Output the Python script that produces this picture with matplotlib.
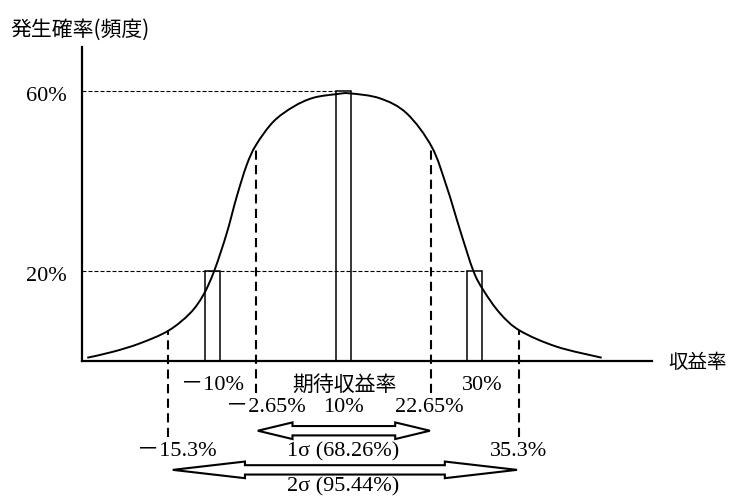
import numpy as np
import matplotlib
matplotlib.use("Agg")
import matplotlib.pyplot as plt
import matplotlib.transforms as mtransforms
from matplotlib.path import Path
from matplotlib.patches import PathPatch, Polygon

# --- data -------------------------------------------------------------
returns = [-10, 10, 30]            # 収益率 (%)
freq = [20, 60, 20]                # 発生確率 (%)
expected = 10                      # 期待収益率 (%)
one_sigma = [-2.65, 22.65]         # 1σ range (%)
two_sigma = [-15.3, 35.3]          # 2σ range (%)
y_ticks = [20, 60]
y_tick_labels = ["20%", "60%"]

# distribution curve read as points (return %, probability %)
curve_x = [-26.92, -23.17, -19.32, -15.24, -12.12, -10.2, -8.62, -6.83, -5.39,
           -3.95, -2.61, -0.12, 2.77, 5.65, 9.02, 10.94, 15.26, 19.11, 22.71,
           24.87, 26.79, 28.70, 30.14, 32.55, 35.43, 40.72, 47.2]
curve_y = [0.73, 2.07, 3.93, 6.73, 10.6, 14.67, 20.07, 28.38, 36.51, 43.56,
           48.0, 53.18, 56.51, 58.51, 59.33, 59.49, 58.38, 55.04, 47.62, 38.73,
           29.11, 20.07, 15.78, 10.6, 6.73, 3.18, 0.73]

SERIF = ["Liberation Serif", "Noto Sans CJK JP"]
GOTHIC = ["Noto Sans CJK JP", "DejaVu Sans"]

W, H = 731, 497
fig = plt.figure(figsize=(W / 100, H / 100), dpi=100)
ax = fig.add_axes([82 / W, 136 / H, 570 / W, 314 / H])
ax.set_xlim(-27.68, 54.45)
ax.set_ylim(0, 69.8)
for s in ("top", "right"):
    ax.spines[s].set_visible(False)
for s in ("left", "bottom"):
    ax.spines[s].set_linewidth(1.6)
ax.set_xticks([])
ax.set_yticks(y_ticks)
ax.set_yticklabels(y_tick_labels, fontsize=16, family=SERIF)
ax.tick_params(axis="y", length=0, pad=11)
shift = mtransforms.ScaledTranslation(0, -3 / 100, fig.dpi_scale_trans)
for t in ax.get_yticklabels():
    t.set_transform(t.get_transform() + shift)

# --- smooth curve through the points (Catmull-Rom as cubic Bezier) ----
pts = np.column_stack([curve_x, curve_y])
verts = [pts[0]]
codes = [Path.MOVETO]
n = len(pts)
for i in range(n - 1):
    p0 = pts[i - 1] if i > 0 else pts[i]
    p1, p2 = pts[i], pts[i + 1]
    p3 = pts[i + 2] if i + 2 < n else pts[i + 1]
    c1 = p1 + (p2 - p0) / 6.0
    c2 = p2 - (p3 - p1) / 6.0
    verts += [c1, c2, p2]
    codes += [Path.CURVE4] * 3
ax.add_patch(PathPatch(Path(verts, codes), fill=False, lw=1.4,
                       edgecolor="black", zorder=4))

# --- bars ---------------------------------------------------------------
bar_w = 2.16
bar_spec = [("edge", bar_w), ("center", bar_w), ("edge", -bar_w)]
bar_left = []
for r, f, (al, w) in zip(returns, freq, bar_spec):
    b = ax.bar(r, f, width=w, align=al, facecolor="none",
               edgecolor="black", linewidth=1.1, zorder=3)
    bar_left.append(b[0].get_x() + min(0, b[0].get_width()))

# horizontal guide lines from the y axis to the bars
h_dash = (0, (3.6, 1.8))
x0 = ax.get_xlim()[0]
ax.hlines([freq[1], freq[2]], x0, [bar_left[1], bar_left[2]],
          colors="black", lw=0.8, linestyles=[h_dash], zorder=2)

# vertical dashed lines at the σ boundaries
v_dash = (0, (4.4, 2.6))
ones_top = np.interp(one_sigma, curve_x, curve_y)
twos_top = np.interp(two_sigma, curve_x, curve_y)
ax.vlines(one_sigma, -7.1, ones_top, colors="black", lw=1.5,
          linestyles=[v_dash], clip_on=False, zorder=2)
ax.vlines(two_sigma, -16.9, twos_top, colors="black", lw=1.5,
          linestyles=[v_dash], clip_on=False, zorder=2)


# --- hollow double-headed arrows ---------------------------------------
def double_arrow(xa, xb, yc, head_len, head_h=1.85, shaft_h=1.04):
    poly = [
        (xa, yc),
        (xa + head_len, yc + head_h),
        (xa + head_len, yc + shaft_h),
        (xb - head_len, yc + shaft_h),
        (xb - head_len, yc + head_h),
        (xb, yc),
        (xb - head_len, yc - head_h),
        (xb - head_len, yc - shaft_h),
        (xa + head_len, yc - shaft_h),
        (xa + head_len, yc - head_h),
    ]
    ax.add_patch(Polygon(poly, closed=True, facecolor="white",
                         edgecolor="black", lw=1.5, clip_on=False,
                         joinstyle="miter", zorder=5))


double_arrow(one_sigma[0] + 0.3, one_sigma[1] - 0.2, -15.5, 5.0)
double_arrow(two_sigma[0] + 0.7, two_sigma[1] - 0.3, -24.2, 10.4)


# --- labels under the axis ---------------------------------------------
def label(x, text, dx, dy, fam=SERIF, size=16):
    ax.annotate(text, xy=(x, 0), xytext=(dx, dy), textcoords="offset pixels",
                ha="center", va="center", fontsize=size, family=fam,
                annotation_clip=False)


label(returns[0], "－10%", 8, -25)
label(returns[2], "30%", 0, -25)
label(expected, "期待収益率", 1, -24, fam=GOTHIC, size=15)
label(one_sigma[0], "－2.65%", 10, -47)
label(expected, f"{expected}%", 0, -47)
label(one_sigma[1], "22.65%", -2, -47)
label(two_sigma[0], "－15.3%", 9, -91)
label(two_sigma[1], "35.3%", -1, -91)
label(expected, "1σ (68.26%)", 0, -91)
label(expected, "2σ (95.44%)", 0, -126)

# axis titles
fig.text(10 / W, 1 - 30 / H, "発生確率(頻度)", ha="left", va="center",
         fontsize=15, family=GOTHIC)
fig.text(668 / W, 1 - 363 / H, "収益率", ha="left", va="center",
         fontsize=14, family=GOTHIC)

fig.savefig("out.png", dpi=100, facecolor="white")
